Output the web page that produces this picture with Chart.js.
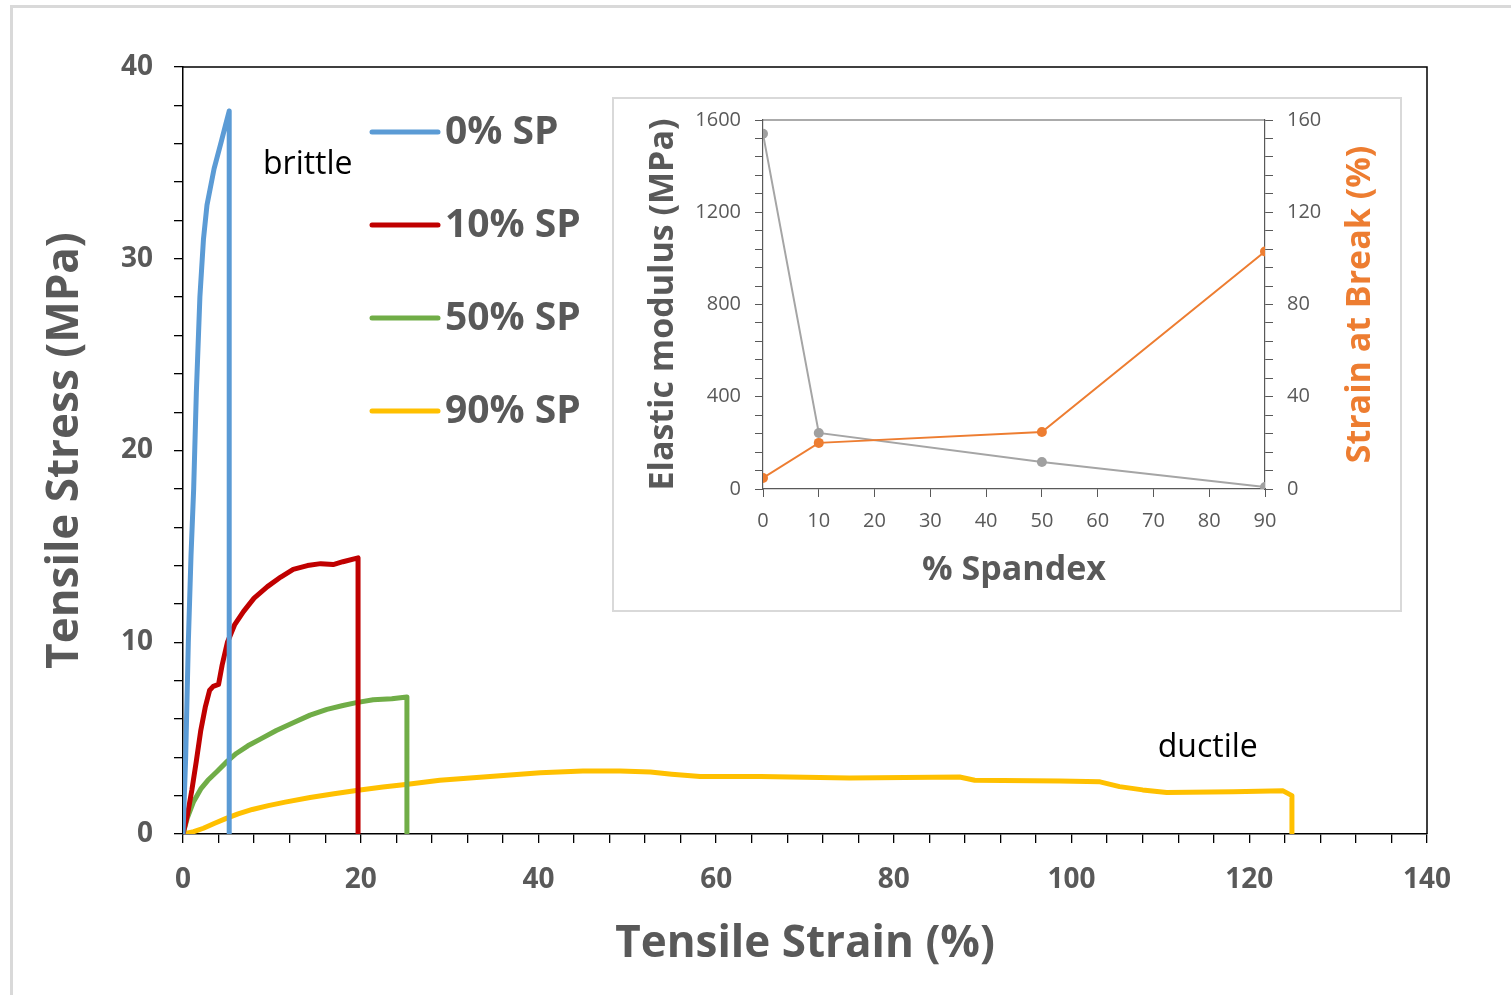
<!DOCTYPE html>
<html>
<head>
<meta charset="utf-8">
<script src="https://cdn.jsdelivr.net/npm/chart.js@4.4.1/dist/chart.umd.min.js"></script>
<style>
  html, body { margin: 0; padding: 0; background: #fff; }
  body { width: 1511px; height: 995px; position: relative; overflow: hidden; }
  #frame { position: absolute; left: 10px; top: 5px; width: 1520px; height: 1000px;
           border-left: 3px solid #d9d9d9; border-top: 3px solid #d9d9d9; }
  #main { position: absolute; left: 0; top: 0; }
  #insetBox { position: absolute; left: 612px; top: 97px; width: 790px; height: 515px;
              box-sizing: border-box; border: 2px solid #d9d9d9; background: #fff; }
  #inset { display: block; }
</style>
</head>
<body>
<div id="frame"></div>
<canvas id="main" width="1511" height="995"></canvas>
<div id="insetBox"><canvas id="inset" width="786" height="511"></canvas></div>
<script>
// stress-strain curves
const SP0_STRAIN  = [0, 0.3, 0.6, 0.9, 1.2, 1.5, 1.9, 2.3, 2.7, 3.5, 4.3, 4.8, 5.2, 5.2];
const SP0_STRESS  = [0, 4, 10, 14.5, 18, 23, 28, 31, 32.8, 34.7, 36.1, 37.0, 37.7, 0];

const SP10_STRAIN = [0, 0.5, 1.0, 1.5, 2.0, 2.5, 3.0, 3.4, 4.0, 4.4, 5.0, 5.8, 6.8, 8.0, 9.5, 11, 12.4, 14, 15.5, 16.9, 18.0, 19.7, 19.7];
const SP10_STRESS = [0, 1.0, 2.3, 3.8, 5.4, 6.6, 7.5, 7.7, 7.8, 8.8, 10.0, 10.9, 11.6, 12.3, 12.9, 13.4, 13.8, 14.0, 14.1, 14.05, 14.2, 14.4, 0];

const SP50_STRAIN = [0, 0.5, 1.2, 2.0, 2.8, 3.8, 5.0, 6.0, 7.3, 8.7, 10.5, 12.4, 14.3, 16.2, 18, 19.5, 21.4, 23.5, 25.2, 25.2];
const SP50_STRESS = [0, 0.85, 1.7, 2.35, 2.8, 3.25, 3.8, 4.2, 4.6, 4.95, 5.4, 5.8, 6.2, 6.5, 6.7, 6.85, 7.0, 7.05, 7.15, 0];

const SP90_STRAIN = [0, 1.2, 2.3, 3.5, 4.8, 6.2, 7.8, 9.6, 11.5, 14.3, 17, 19.7, 22.5, 25.3, 28.9, 33.8, 40.2, 45, 49.2, 52.6, 55, 58.2, 65, 75, 87.4, 89.1, 98.7, 103.2, 105.4, 108, 110.7, 118.2, 123.8, 124.8, 124.8];
const SP90_STRESS = [0, 0.12, 0.3, 0.55, 0.8, 1.05, 1.28, 1.48, 1.66, 1.9, 2.1, 2.28, 2.45, 2.6, 2.8, 2.97, 3.2, 3.28, 3.29, 3.23, 3.12, 3.0, 3.0, 2.92, 2.97, 2.8, 2.76, 2.72, 2.47, 2.3, 2.16, 2.2, 2.25, 2.0, 0];

const SERIES_LABELS = ['0% SP', '10% SP', '50% SP', '90% SP'];
const SERIES_COLORS = ['#5b9bd5', '#c00000', '#70ad47', '#ffc000'];

// inset: properties vs spandex content
const SPANDEX         = [0, 10, 50, 90];
const MODULUS         = [1540, 243, 117, 9];
const STRAIN_AT_BREAK = [4.8, 20, 24.7, 103];

const GREY = '#595959';
const FONT = "'Open Sans', 'Noto Sans', sans-serif";

const toPoints = (xs, ys) => xs.map((x, i) => ({ x, y: ys[i] }));

const curves = [
  toPoints(SP0_STRAIN, SP0_STRESS),
  toPoints(SP10_STRAIN, SP10_STRESS),
  toPoints(SP50_STRAIN, SP50_STRESS),
  toPoints(SP90_STRAIN, SP90_STRESS),
];

// top + right frame of the plot area
const frameLines = {
  id: 'frameLines',
  afterDraw(chart, args, opts) {
    const { ctx, chartArea: a } = chart;
    ctx.save();
    ctx.strokeStyle = opts.color || '#000';
    ctx.lineWidth = opts.width || 1.5;
    ctx.beginPath();
    ctx.moveTo(a.left, a.top);
    ctx.lineTo(a.right, a.top);
    if (opts.right !== false) ctx.lineTo(a.right, a.bottom);
    ctx.stroke();
    ctx.restore();
  }
};

// legend drawn inside the plot, plus the text notes
const mainDecor = {
  id: 'mainDecor',
  afterDatasetsDraw(chart) {
    const { ctx, chartArea: a, scales: { x, y } } = chart;
    ctx.save();
    chart.data.datasets.forEach((ds, i) => {
      const ly = a.top + 65 + i * 93;
      ctx.strokeStyle = ds.borderColor;
      ctx.lineWidth = 5;
      ctx.lineCap = 'round';
      ctx.beginPath();
      ctx.moveTo(a.left + 189, ly);
      ctx.lineTo(a.left + 255, ly);
      ctx.stroke();
      ctx.fillStyle = GREY;
      ctx.font = `bold 39px ${FONT}`;
      ctx.textBaseline = 'middle';
      ctx.textAlign = 'left';
      ctx.fillText(ds.label, a.left + 262, ly + 1);
    });
    ctx.fillStyle = '#000';
    ctx.font = `32px ${FONT}`;
    ctx.textBaseline = 'middle';
    ctx.fillText('brittle', x.getPixelForValue(9.0), y.getPixelForValue(34.9));
    ctx.fillText('ductile', x.getPixelForValue(109.7), y.getPixelForValue(4.5));
    ctx.restore();
  }
};

new Chart(document.getElementById('main'), {
  type: 'scatter',
  data: {
    datasets: curves.map((pts, i) => ({
      label: SERIES_LABELS[i],
      data: pts,
      showLine: true,
      borderColor: SERIES_COLORS[i],
      backgroundColor: SERIES_COLORS[i],
      borderWidth: 5,
      pointRadius: 0,
      tension: 0,
      borderJoinStyle: 'round',
      borderCapStyle: 'round',
    }))
  },
  options: {
    responsive: false,
    animation: false,
    layout: { padding: { left: 0, top: 67, right: 84, bottom: 0 } },
    plugins: {
      legend: { display: false },
      tooltip: { enabled: false },
      frameLines: { color: '#000', width: 1.5 },
    },
    scales: {
      x: {
        type: 'linear', min: 0, max: 140,
        afterFit: s => { s.height = 161; },
        border: { display: true, color: '#000', width: 1.5 },
        grid: { drawOnChartArea: false, tickLength: 9, color: '#000', lineWidth: 1.3 },
        ticks: {
          stepSize: 4, autoSkip: false, maxRotation: 0, padding: 20,
          color: GREY, font: { family: FONT, size: 28, weight: 'bold' },
          callback: v => (v % 20 === 0 ? v : ''),
        },
        title: {
          display: true, text: 'Tensile Strain (%)', color: GREY,
          font: { family: FONT, size: 44, weight: 'bold' },
          padding: { top: 0, bottom: 24 },
        },
      },
      y: {
        type: 'linear', min: 0, max: 40,
        afterFit: s => { s.width = 183; },
        border: { display: true, color: '#000', width: 1.5 },
        grid: { drawOnChartArea: false, tickLength: 9, color: '#000', lineWidth: 1.3 },
        ticks: {
          stepSize: 2, autoSkip: false, padding: 21,
          color: GREY, font: { family: FONT, size: 28, weight: 'bold' },
          callback: v => (v % 10 === 0 ? v : ''),
        },
        title: {
          display: true, text: 'Tensile Stress (MPa)', color: GREY,
          font: { family: FONT, size: 44, weight: 'bold' },
          padding: { top: 39, bottom: 0 },
        },
      },
    },
  },
  plugins: [frameLines, mainDecor],
});

// right-hand title reads bottom-to-top, so draw it ourselves
const rightTitle = {
  id: 'rightTitle',
  afterDraw(chart) {
    const { ctx, chartArea: a } = chart;
    ctx.save();
    ctx.translate(746, (a.top + a.bottom) / 2);
    ctx.rotate(-Math.PI / 2);
    ctx.fillStyle = '#ed7d31';
    ctx.font = `bold 34px ${FONT}`;
    ctx.textAlign = 'center';
    ctx.textBaseline = 'middle';
    ctx.fillText('Strain at Break (%)', 0, 0);
    ctx.restore();
  }
};

// keep the label overhang from pushing the inset plot area down
const noPad = s => { s.paddingTop = 0; s.paddingBottom = 0; };

new Chart(document.getElementById('inset'), {
  type: 'scatter',
  data: {
    datasets: [
      {
        label: 'Strain at Break (%)',
        data: toPoints(SPANDEX, STRAIN_AT_BREAK),
        yAxisID: 'y1',
        showLine: true,
        borderColor: '#ed7d31',
        backgroundColor: '#ed7d31',
        borderWidth: 2,
        pointRadius: 5,
        pointBorderWidth: 0,
        tension: 0,
      },
      {
        label: 'Elastic modulus (MPa)',
        data: toPoints(SPANDEX, MODULUS),
        yAxisID: 'y',
        showLine: true,
        borderColor: '#a5a5a5',
        backgroundColor: '#a0a0a0',
        borderWidth: 2,
        pointRadius: 5,
        pointBorderWidth: 0,
        tension: 0,
      },
    ]
  },
  options: {
    responsive: false,
    animation: false,
    layout: { padding: { left: 0, top: 21, right: 0, bottom: 0 } },
    plugins: {
      legend: { display: false },
      tooltip: { enabled: false },
      frameLines: { color: GREY, width: 1.2, right: false },
    },
    scales: {
      x: {
        type: 'linear', min: 0, max: 90,
        afterFit: s => { s.height = 121; },
        border: { display: true, color: GREY, width: 1.2 },
        grid: { drawOnChartArea: false, tickLength: 8, color: GREY, lineWidth: 1 },
        ticks: {
          stepSize: 10, autoSkip: false, maxRotation: 0, padding: 12,
          color: GREY, font: { family: FONT, size: 20 },
        },
        title: {
          display: true, text: '% Spandex', color: GREY,
          font: { family: FONT, size: 34, weight: 'bold' },
          padding: { top: 0, bottom: 19 },
        },
      },
      y: {
        type: 'linear', position: 'left', min: 0, max: 1600,
        afterFit: s => { s.width = 149; noPad(s); },
        border: { display: true, color: GREY, width: 1.2 },
        grid: { drawOnChartArea: false, tickLength: 8, color: GREY, lineWidth: 1 },
        ticks: {
          stepSize: 80, autoSkip: false, padding: 14,
          color: GREY, font: { family: FONT, size: 20 },
          callback: v => (v % 400 === 0 ? v : ''),
        },
        title: {
          display: true, text: 'Elastic modulus (MPa)', color: GREY,
          font: { family: FONT, size: 34, weight: 'bold' },
          padding: { top: 29, bottom: 0 },
        },
      },
      y1: {
        type: 'linear', position: 'right', min: 0, max: 160,
        afterFit: s => { s.width = 135; noPad(s); },
        border: { display: true, color: GREY, width: 1.2 },
        grid: { drawOnChartArea: false, tickLength: 8, color: GREY, lineWidth: 1 },
        ticks: {
          stepSize: 8, autoSkip: false, padding: 14,
          color: GREY, font: { family: FONT, size: 20 },
          callback: v => (v % 40 === 0 ? v : ''),
        },
      },
    },
  },
  plugins: [frameLines, rightTitle],
});
</script>
</body>
</html>
